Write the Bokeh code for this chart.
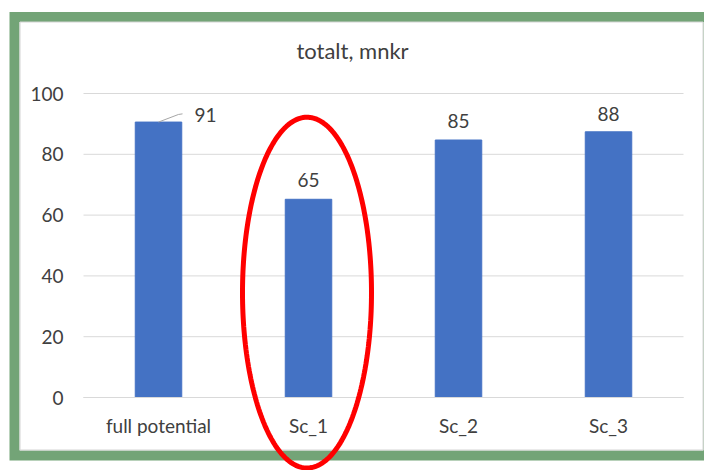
import numpy as np
from bokeh.plotting import figure
from bokeh.core.properties import value
from bokeh.models import (ColumnDataSource, Range1d, LabelSet, Label,
                          BoxAnnotation, PolyAnnotation)
from bokeh.embed import file_html
from bokeh.resources import INLINE

categories = ["full potential", "Sc_1", "Sc_2", "Sc_3"]
values = [90.6, 65.2, 84.7, 87.4]
value_labels = ["91", "65", "85", "88"]
y_ticks = [0, 20, 40, 60, 80, 100]
title_text = "totalt, mnkr"
highlight = "Sc_1"

FONT = "Lato"
TEXT = "#404040"
BAR = "#4472C4"
GRID = "#D9D9D9"
GREEN = "#73A477"

W, H = 704, 470
# plot-area placement inside the canvas (pixels)
PA_LEFT, PA_RIGHT, PA_TOP, PA_BOTTOM = 83, 683, 93, 397
Y_MAX = 100
n = len(categories)
px_per_x = (PA_RIGHT - PA_LEFT) / n
px_per_y = (PA_BOTTOM - PA_TOP) / Y_MAX

x_range = Range1d(-PA_LEFT / px_per_x, n + (W - PA_RIGHT) / px_per_x)
y_range = Range1d(-(H - PA_BOTTOM) / px_per_y, Y_MAX + PA_TOP / px_per_y)

p = figure(width=W, height=H, x_range=x_range, y_range=y_range,
           output_backend="svg", toolbar_location=None,
           min_border=0, min_border_left=0, min_border_right=0,
           min_border_top=0, min_border_bottom=0,
           background_fill_color="white", border_fill_color="white")
p.outline_line_color = None
p.xgrid.grid_line_color = None
p.ygrid.grid_line_color = None

xpos = [i + 0.5 for i in range(n)]
src = ColumnDataSource(dict(
    x=xpos, val=values, lab=value_labels,
    xo=[47, 0, 0, 0], yo=[7, 19, 19, 18],
))

# gridlines across the plot area
p.segment(x0=[0] * len(y_ticks), x1=[n] * len(y_ticks), y0=y_ticks, y1=y_ticks,
          line_color=GRID, line_width=1)

p.vbar(x="x", top="val", width=0.31, source=src,
       fill_color=BAR, line_color=BAR)

# axes at fixed locations (take no panel space)
p.yaxis.fixed_location = 0
p.yaxis.ticker = y_ticks
p.yaxis.axis_line_color = None
p.yaxis.major_tick_line_color = None
p.yaxis.minor_tick_line_color = None
p.yaxis.major_tick_in = 0
p.yaxis.major_tick_out = 0
p.yaxis.major_label_standoff = 20

p.xaxis.fixed_location = 0
p.xaxis.ticker = xpos
p.xaxis.major_label_overrides = {xp: c for xp, c in zip(xpos, categories)}
p.xaxis.bounds = (0, n)
p.xaxis.axis_line_color = GRID
p.xaxis.major_tick_line_color = None
p.xaxis.minor_tick_line_color = None
p.xaxis.major_tick_in = 0
p.xaxis.major_tick_out = 0
p.xaxis.major_label_standoff = 16
for ax in (p.xaxis, p.yaxis):
    ax.major_label_text_font = FONT
    ax.major_label_text_font_size = "19px"
    ax.major_label_text_color = TEXT

# leader line for first label
x0 = xpos[0]
p.line(x=[x0, x0 + 0.133, x0 + 0.16],
       y=[values[0], values[0] + 2.5, values[0] + 2.7],
       line_color="#A6A6A6", line_width=1)

labels = LabelSet(x="x", y="val", text="lab", source=src,
                  x_offset="xo", y_offset="yo",
                  text_align="center", text_baseline="middle",
                  text_font=value(FONT), text_font_size=value("19px"),
                  text_color=TEXT)
p.add_layout(labels)

# title
p.add_layout(Label(x=352, y=50, x_units="canvas", y_units="canvas",
                   text=title_text, text_align="center", text_baseline="middle",
                   text_font=FONT, text_font_size="22px", text_color=TEXT))

# green frame
p.add_layout(BoxAnnotation(left=14, right=708, top=16.5, bottom=455,
                           left_units="canvas", right_units="canvas",
                           top_units="canvas", bottom_units="canvas",
                           fill_color=None, line_color=GREEN, line_width=10,
                           line_alpha=1, line_join="miter"))
p.add_layout(BoxAnnotation(left=19.5, right=702.5, top=21.5, bottom=449.5,
                           left_units="canvas", right_units="canvas",
                           top_units="canvas", bottom_units="canvas",
                           fill_color=None, line_color="#D4D4D4", line_width=1,
                           line_alpha=1, line_join="miter"))

# red highlight ellipse
t = np.linspace(0, 2 * np.pi, 240)
cx = categories.index(highlight) + 0.49
p.add_layout(PolyAnnotation(xs=list(cx + 0.43 * np.cos(t)),
                            ys=list(34.5 + 57.7 * np.sin(t)),
                            fill_color=None, fill_alpha=0,
                            line_color="#FF0000", line_width=5, line_alpha=1))

open("out.html", "w").write(file_html(p, INLINE))
